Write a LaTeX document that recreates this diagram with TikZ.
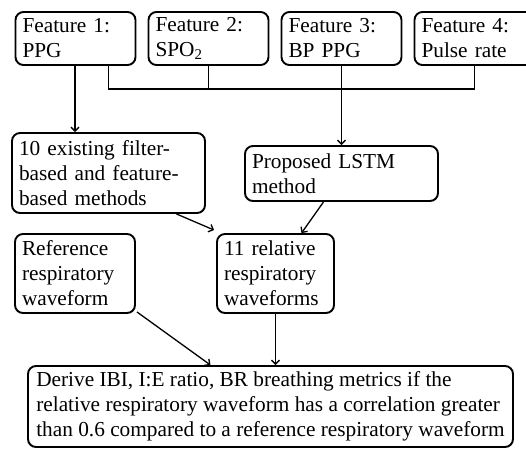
\documentclass[tikz,border=0pt]{standalone}
\usepackage{fontspec}
\setmainfont{Liberation Serif}
\usetikzlibrary{arrows.meta,positioning}

\begin{document}
\begin{tikzpicture}[
x=1pt,y=-1pt,
box/.style={
  draw,
  rounded corners=8pt,
  line width=1.9pt,
  align=left,
  inner xsep=7pt,
  inner ysep=4pt,
  font=\fontsize{21.3}{25}\selectfont
  },
feat/.style={
  box,
  text width=106pt,
  minimum height=53pt
  },
link/.style={
  line width=1.3pt
  },
>={Straight Barb[length=4pt,width=8pt]}
]
\useasboundingbox (0,0) rectangle (526,448);

% the four inputs
\foreach \txt [count=\i] in {{Feature 1:\\PPG},{Feature 2:\\SPO\textsubscript{2}},{Feature 3:\\BP PPG},{Feature 4:\\Pulse rate}}
  \node[feat] (f\i) at ({75.5+133*(\i-1)},38.5) {\txt};

\node[box, text width=179pt, minimum height=80pt] (exist) at (108.5,173)
  {10 existing filter-\\based and feature-\\based methods};
\node[box, text width=179pt, minimum height=55pt] (lstm) at (341.5,173.5)
  {Proposed LSTM\\method};
\node[box, text width=106pt, minimum height=79pt] (refw) at (75,273.5)
  {Reference\\respiratory\\waveform};
\node[box, text width=103pt, minimum height=79pt] (relw) at (275.5,273.5)
  {11 relative\\respiratory\\waveforms};
\node[box, minimum width=485pt, minimum height=81pt] (derive) at (270.5,406.5)
  {Derive IBI, I:E ratio, BR breathing metrics if the\\relative respiratory waveform has a correlation greater\\than 0.6 compared to a reference respiratory waveform};

% bus from features 1, 2 and 4
\coordinate (bus1) at ([xshift=33pt]f1.south);
\draw[link] (bus1) -- +(0,23) -| (f4.south);
\draw[link] (f2.south) -- +(0,23);

\draw[link,->] ([xshift=-0.5pt]f1.south) -- ([xshift=-0.5pt]f1.south |- exist.north);
\draw[link,->] (f3.south) -- (f3.south |- lstm.north);
\draw[link,->] ([xshift=68pt]exist.south) -- ([xshift=-2pt,yshift=3pt]relw.north west);
\draw[link,->] ([xshift=-18pt]lstm.south) -- ([xshift=26pt]relw.north);
\draw[link,->] ([xshift=1pt,yshift=2pt]refw.south east) -- ([xshift=-60pt]derive.north);
\draw[link,->] (relw.south) -- (relw.south |- derive.north);
\end{tikzpicture}
\end{document}
